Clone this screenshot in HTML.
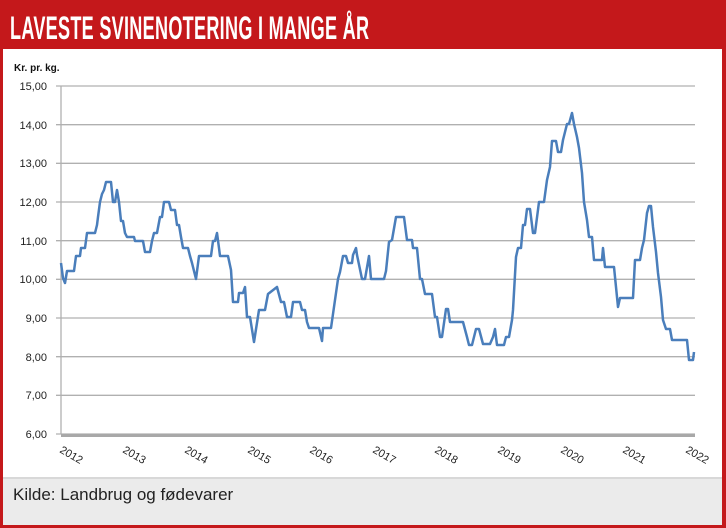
<!DOCTYPE html>
<html><head><meta charset="utf-8"><style>
body{margin:0;width:726px;height:528px;overflow:hidden;background:#c4181b;font-family:"Liberation Sans",sans-serif}
#panel{position:absolute;left:3px;top:49px;width:719px;height:428px;background:#fff}
#foot{position:absolute;left:3px;top:477px;width:719px;height:48px;background:#ebebeb;border-top:2px solid #d8d8d8;box-sizing:border-box}
#title{position:absolute;left:10px;top:10px;color:#fff;font-weight:bold;font-size:32px;font-family:"Liberation Sans Narrow","Liberation Sans",sans-serif;transform:scaleX(0.565);transform-origin:0 0;white-space:nowrap;letter-spacing:0.5px}
</style></head><body>
<div id="title">LAVESTE SVINENOTERING I MANGE ÅR</div>
<div id="panel"></div>
<div id="foot"><div style="position:absolute;left:10px;top:6px;font-size:17px;color:#222">Kilde: Landbrug og fødevarer</div></div>
<svg width="726" height="528" style="position:absolute;left:0;top:0" font-family="Liberation Sans,sans-serif">
<text x="14" y="71" font-size="10" font-weight="bold" fill="#111">Kr. pr. kg.</text>
<g stroke="#b0b0b0" stroke-width="1.3">
<line x1="56" x2="695" y1="86" y2="86"/><line x1="56" x2="695" y1="124.7" y2="124.7"/><line x1="56" x2="695" y1="163.3" y2="163.3"/><line x1="56" x2="695" y1="202" y2="202"/><line x1="56" x2="695" y1="240.7" y2="240.7"/><line x1="56" x2="695" y1="279.3" y2="279.3"/><line x1="56" x2="695" y1="318" y2="318"/><line x1="56" x2="695" y1="356.7" y2="356.7"/><line x1="56" x2="695" y1="395.3" y2="395.3"/><line x1="56" x2="695" y1="434" y2="434"/>
<line x1="61" x2="61" y1="86" y2="434"/>
</g>
<rect x="61" y="434" width="634" height="3" fill="#a8a8a8"/>
<g font-size="11" fill="#222" text-anchor="end">
<text x="47" y="90">15,00</text><text x="47" y="129">14,00</text><text x="47" y="167">13,00</text><text x="47" y="206">12,00</text><text x="47" y="245">11,00</text><text x="47" y="283">10,00</text><text x="47" y="322">9,00</text><text x="47" y="361">8,00</text><text x="47" y="399">7,00</text><text x="47" y="438">6,00</text>
</g>
<g font-size="11" fill="#222">
<text transform="translate(59,452) rotate(30)">2012</text>
<text transform="translate(122,452) rotate(30)">2013</text>
<text transform="translate(184,452) rotate(30)">2014</text>
<text transform="translate(247,452) rotate(30)">2015</text>
<text transform="translate(309,452) rotate(30)">2016</text>
<text transform="translate(372,452) rotate(30)">2017</text>
<text transform="translate(434,452) rotate(30)">2018</text>
<text transform="translate(497,452) rotate(30)">2019</text>
<text transform="translate(560,452) rotate(30)">2020</text>
<text transform="translate(622,452) rotate(30)">2021</text>
<text transform="translate(685,452) rotate(30)">2022</text>
</g>
<polyline fill="none" stroke="#4a7ebb" stroke-width="2.5" stroke-linejoin="round" points="
61,263 63,278 65,283 67,271 74,271 76,256 80,256 81,248 85,248 87,233 95,233 97,225 98,217 100,202 102,194 104,190 106,182 111,182 113,202 115,202 117,190 119,202 121,221 123,221 125,233 127,237 134,237 135,241 143,241 145,252 150,252 152,241 154,233 157,233 160,217 162,217 164,202 169,202 171,210 175,210 177,225 179,225 181,237 183,248 188,248 190,256 192,263 196,279 199,256 203,256 206,256 211,256 213,241 215,241 217,233 219,248 220,256 228,256 231,270 233,302 238,302 239,293 243,293 245,287 247,317 250,317 254,342 259,310 265,310 268,294 277,287 281,302 284,302 287,317 291,317 293,302 300,302 302,310 305,310 307,322 309,328 319,328 322,341 323,328 331,328 335,300 338,279 340,272 343,256 346,256 348,263 352,263 353,255 356,248 357,255 362,279 365,279 369,256 371,279 384,279 386,271 389,242 392,240 396,217 404,217 407,240 412,240 413,248 417,248 420,279 422,279 425,294 432,294 435,317 437,317 440,337 442,337 446,309 448,309 450,322 463,322 467,337 469,345 472,345 476,329 479,329 483,344 490,344 493,337 495,329 497,345 504,345 506,337 509,337 512,320 513,310 516,257 518,248 521,248 523,225 525,225 527,209 530,209 533,233 535,233 539,202 544,202 547,180 550,167 552,141 556,141 558,152 561,152 563,140 565,132 567,124 569,124 572,113 574,124 577,137 579,148 582,173 584,202 587,220 589,237 592,237 594,260 602,260 603,248 605,267 614,267 616,287 618,307 620,298 633,298 635,260 640,260 642,248 644,240 647,213 649,206 651,206 653,227 656,252 658,273 661,297 663,320 666,329 670,329 672,340 687,340 689,360 693,360 694,352"/>
</svg>
</body></html>
